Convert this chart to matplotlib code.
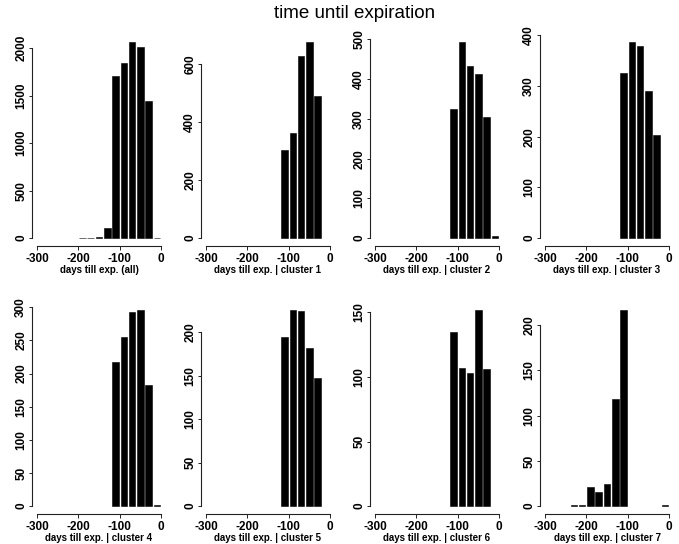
import numpy as np
import matplotlib
matplotlib.use("Agg")
import matplotlib.pyplot as plt
from matplotlib.ticker import MultipleLocator

plt.rcParams['font.family'] = ['Liberation Sans', 'DejaVu Sans']

# histogram bins (left edges, 20 days wide)
bin_lefts = [-240, -220, -200, -180, -160, -140, -120, -100, -80, -60, -40, -20]

counts_all = [0, 0, 6, 4, 10, 105, 1705, 1845, 2065, 2015, 1440, 5]
counts_c1 = [0, 0, 0, 0, 0, 0, 305, 363, 626, 676, 489, 0]
counts_c2 = [0, 0, 0, 0, 0, 0, 325, 494, 433, 412, 304, 6]
counts_c3 = [0, 0, 0, 0, 0, 0, 326, 387, 379, 291, 204, 0]
counts_c4 = [0, 0, 0, 0, 0, 0, 218, 255, 293, 296, 182, 2]
counts_c5 = [0, 0, 0, 0, 0, 0, 195, 226, 225, 182, 148, 0]
counts_c6 = [0, 0, 0, 0, 0, 0, 135, 107, 103, 152, 106, 0]
counts_c7 = [1, 1, 21, 16, 24, 119, 217, 0, 0, 0, 0, 1]

panel_counts = [counts_all, counts_c1, counts_c2, counts_c3,
                counts_c4, counts_c5, counts_c6, counts_c7]
panel_labels = ["days till exp. (all)", "days till exp. | cluster 1",
                "days till exp. | cluster 2", "days till exp. | cluster 3",
                "days till exp. | cluster 4", "days till exp. | cluster 5",
                "days till exp. | cluster 6", "days till exp. | cluster 7"]
y_steps = [500, 200, 100, 100, 50, 50, 50, 50]
x_ticks = [-300, -200, -100, 0]

W, H = 679, 544
fig = plt.figure(figsize=(W / 100, H / 100), dpi=100)

# panel boxes in pixels: left, top, width, height
lefts = [32, 201, 370, 540]
tops = [34, 302]
pw, ph = 134, 212

for i, counts in enumerate(panel_counts):
    row, col = divmod(i, 4)
    l, t = lefts[col], tops[row]
    ax = fig.add_axes([l / W, 1 - (t + ph) / H, pw / W, ph / H])

    centers = [b + 10 for b in bin_lefts]
    xs = [c for c, n in zip(centers, counts) if n > 0]
    ns = [n for n in counts if n > 0]
    ax.bar(xs, ns, width=16, color='black', edgecolor='black', linewidth=0.4)

    top = max(counts)
    ax.set_xlim(-312, 12)
    ax.set_ylim(-0.04 * top, 1.04 * top)

    step = y_steps[i]
    ax.yaxis.set_major_locator(MultipleLocator(step))
    ymax_tick = step * int(1.04 * top // step)
    ax.set_xticks(x_ticks)
    ax.set_xticklabels([str(x) for x in x_ticks])

    for s in ['top', 'right']:
        ax.spines[s].set_visible(False)
    ax.spines['left'].set_bounds(0, ymax_tick)
    ax.spines['bottom'].set_bounds(-300, 0)
    for s in ['left', 'bottom']:
        ax.spines[s].set_linewidth(0.8)
        ax.spines[s].set_color('#222222')

    ax.tick_params(axis='x', length=3, width=0.7, pad=2,
                   labelsize=8.5, color='#222222')
    ax.tick_params(axis='y', length=2.5, width=0.7, pad=1,
                   labelsize=8.5, color='#222222')
    for lab in ax.get_yticklabels():
        lab.set_rotation(90)
        lab.set_va('center')
        lab.set_fontweight('bold')
    for lab in ax.get_xticklabels():
        lab.set_fontweight('bold')
    ax.set_xlabel(panel_labels[i], fontsize=7, fontweight='bold', labelpad=0)

fig.text(355 / W, 1 - 14 / H, "time until expiration", fontsize=13.5,
         ha='center', va='center')

fig.savefig("out.png", dpi=100)
